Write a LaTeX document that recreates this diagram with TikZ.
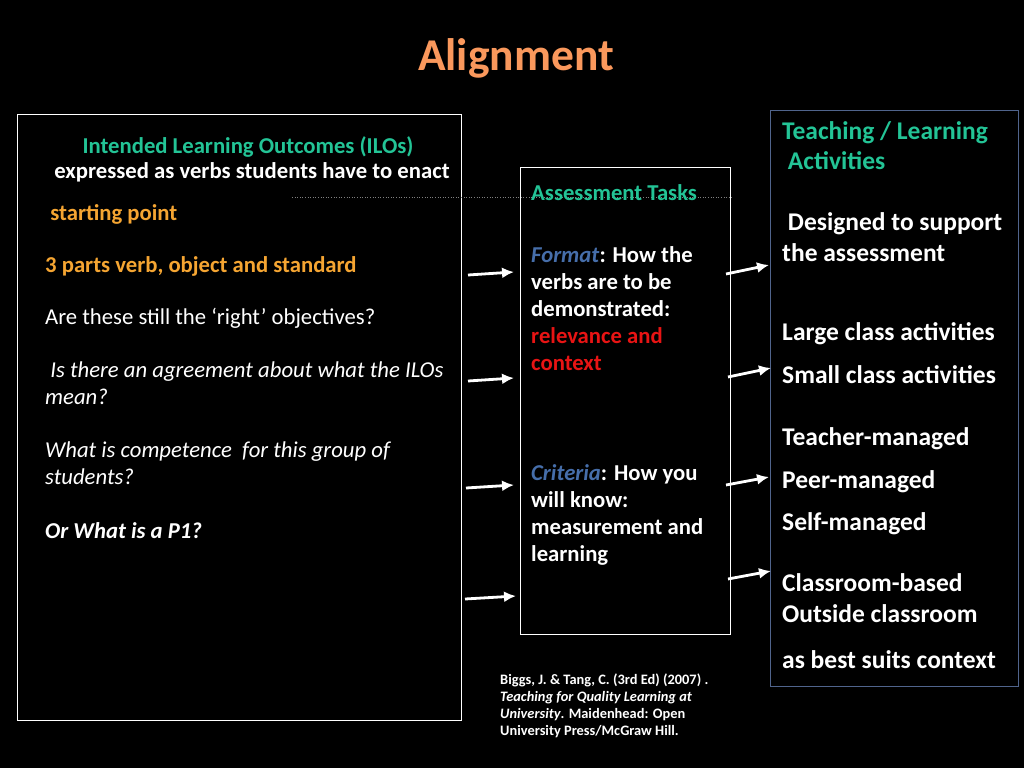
\documentclass[tikz,border=0pt]{standalone}
\usepackage{fontspec}
\setmainfont{Carlito}
\usepackage{xcolor}
\usepackage{tikz}
\definecolor{titleorange}{RGB}{250,152,92}
\definecolor{pointorange}{RGB}{245,165,50}
\definecolor{headgreen}{RGB}{35,196,150}
\definecolor{formatblue}{RGB}{70,110,170}
\definecolor{alertred}{RGB}{232,20,20}
\definecolor{panelblue}{RGB}{80,100,140}
\usetikzlibrary{shapes,arrows.meta,positioning,calc}

\begin{document}
\begin{tikzpicture}[
    x=1pt, y=-1pt,
    panel/.style={rectangle, draw=white, line width=1.2pt, inner sep=0pt, anchor=north west},
    txt/.style={anchor=mid west, inner sep=0pt, align=left, text=white, font=\fontsize{22.7}{27}\selectfont},
    bold/.style={txt, font=\fontsize{22.7}{27}\selectfont\bfseries},
    big/.style={txt, font=\fontsize{25.5}{31}\selectfont\bfseries},
    head/.style={txt, text=headgreen, font=\fontsize{22.7}{27}\selectfont\bfseries},
    arrow/.style={-{Latex[length=12pt,width=11pt]},line width=2.8pt,white}
]
\fill[black] (0,0) rectangle (1024,768);
\useasboundingbox (0,0) rectangle (1024,768);

\node[text=titleorange, font=\fontsize{45.5}{48}\selectfont\bfseries] (title) at (516,58) {Alignment};

% the three panels
\node[panel, minimum width=444pt, minimum height=606pt] (ilobox) at (17,114) {};
\node[panel, minimum width=210pt, minimum height=467pt] (taskbox) at (520,167) {};
\node[panel, draw=panelblue, minimum width=248pt, minimum height=576pt] (tlabox) at (770,110) {};

\coordinate (dots1) at (292,197);
\coordinate (dots2) at (732,197);
\draw[gray, dotted, line width=0.6pt] (dots1) -- (dots2);

% left panel (multi-line nodes are placed by their last line)
\node[head, anchor=mid] (ilohead) at (248,151) {Intended Learning Outcomes (ILOs)};
\node[bold, anchor=mid] (enact) at (252,176) {expressed as verbs students have to enact};
\node[bold, text=pointorange] (start) at (45,218) {\ starting point};
\node[bold, text=pointorange] (parts) at (45,270) {3 parts verb, object and standard};
\node[txt] (right) at (45,322) {Are these still the `right' objectives?};
\node[txt, font=\fontsize{22.7}{27}\selectfont\itshape] (agree) at (45,402) {\ Is there an agreement about what the ILOs\\mean?};
\node[txt, font=\fontsize{22.7}{27}\selectfont\itshape] (compet) at (45,482) {What is competence\ \ for this group of\\students?};
\node[bold, font=\fontsize{22.7}{27}\selectfont\bfseries\itshape] (pone) at (45,536) {Or What is a P1?};

% middle panel
\node[head] (tasks) at (531,198) {Assessment Tasks};
\node[bold] (format) at (531,368) {\textcolor{formatblue}{\textit{Format}}: How the\\verbs are to be\\demonstrated:\\\textcolor{alertred}{relevance and}\\\textcolor{alertred}{context}};
\node[bold] (criteria) at (531,559) {\textcolor{formatblue}{\textit{Criteria}}: How you\\will know:\\measurement and\\learning};

% right panel
\node[head, font=\fontsize{25.5}{30}\selectfont\bfseries] (tlahead) at (782,167) {Teaching / Learning\\\ Activities};
\node[big] (support) at (782,259) {\ Designed to support\\the assessment};
\node[big] (large) at (782,338) {Large class activities};
\node[big] (small) at (782,381) {Small class activities};
\node[big] (teacher) at (782,443) {Teacher-managed};
\node[big] (peer) at (782,486) {Peer-managed};
\node[big] (self) at (782,528) {Self-managed};
\node[big] (room) at (782,620) {Classroom-based\\Outside classroom};
\node[big] (suits) at (782,666) {as best suits context};

% reference
\node[txt, font=\fontsize{14.4}{17}\selectfont\bfseries] (biggs) at (500,733.5) {Biggs, J. \& Tang, C. (3rd Ed) (2007) .\\\textit{Teaching for Quality Learning at}\\\textit{University}. Maidenhead: Open\\University Press/McGraw Hill.};

% arrows into the tasks panel
\coordinate (l1s) at (468,275); \coordinate (l1e) at (514,272);
\coordinate (l2s) at (468,381); \coordinate (l2e) at (514,378);
\coordinate (l3s) at (466,488); \coordinate (l3e) at (514,485);
\coordinate (l4s) at (465,599); \coordinate (l4e) at (516,596);
\draw[arrow] (l1s) -- (l1e);
\draw[arrow] (l2s) -- (l2e);
\draw[arrow] (l3s) -- (l3e);
\draw[arrow] (l4s) -- (l4e);

% arrows into the activities panel
\coordinate (r1s) at (726,274); \coordinate (r1e) at (769,265);
\coordinate (r2s) at (728,377); \coordinate (r2e) at (771,368);
\coordinate (r3s) at (726,485); \coordinate (r3e) at (769,477);
\coordinate (r4s) at (728,579); \coordinate (r4e) at (771,571);
\draw[arrow] (r1s) -- (r1e);
\draw[arrow] (r2s) -- (r2e);
\draw[arrow] (r3s) -- (r3e);
\draw[arrow] (r4s) -- (r4e);

\end{tikzpicture}
\end{document}
